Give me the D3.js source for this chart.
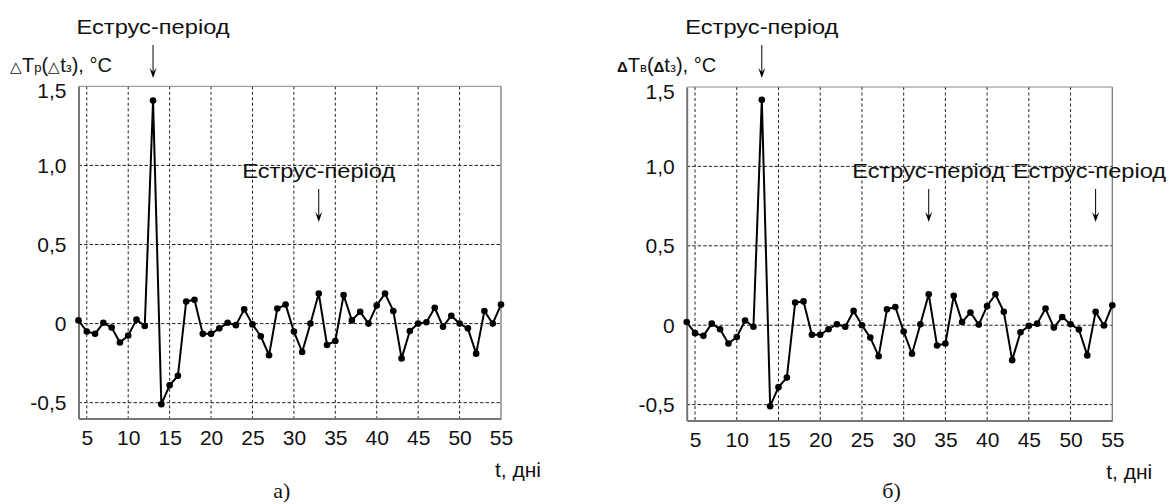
<!DOCTYPE html>
<html><head><meta charset="utf-8">
<script src="https://cdn.jsdelivr.net/npm/d3@7"></script>
<style>
html,body{margin:0;padding:0;background:#fff;}
svg{display:block;font-family:"Liberation Sans",Arial,sans-serif;}
</style></head>
<body><svg id="c" width="1174" height="504"></svg>
<script>
// ---- data ----
const days = [4,5,6,7,8,9,10,11,12,13,14,15,16,17,18,19,20,21,22,23,24,25,26,27,28,29,30,31,32,33,34,35,36,37,38,39,40,41,42,43,44,45,46,47,48,49,50,51,52,53,54,55];
const deltaTr = [0.02,-0.05,-0.065,0.005,-0.025,-0.12,-0.075,0.025,-0.015,1.41,-0.51,-0.39,-0.33,0.14,0.15,-0.065,-0.065,-0.03,0.005,-0.01,0.09,-0.005,-0.08,-0.2,0.095,0.12,-0.05,-0.18,0.0,0.19,-0.135,-0.11,0.18,0.02,0.075,0.0,0.115,0.19,0.08,-0.22,-0.047,0.0,0.008,0.10,-0.02,0.05,0.0,-0.03,-0.19,0.08,0.0,0.12];
const deltaTv = [0.02,-0.05,-0.067,0.01,-0.025,-0.115,-0.074,0.03,-0.01,1.42,-0.51,-0.39,-0.33,0.143,0.15,-0.06,-0.06,-0.025,0.006,-0.01,0.09,0.0,-0.078,-0.195,0.1,0.115,-0.04,-0.18,0.006,0.195,-0.128,-0.115,0.185,0.02,0.08,0.004,0.12,0.195,0.084,-0.22,-0.044,-0.004,0.01,0.105,-0.015,0.052,0.006,-0.027,-0.19,0.084,-0.002,0.126];
const xTicks = [5,10,15,20,25,30,35,40,45,50,55];
const yTicks = [-0.5,0,0.5,1.0,1.5];
const yTickLabels = ["-0,5","0","0,5","1,0","1,5"];
const estrusA = [13,33];
const estrusB = [13,33,53];
const estrusLabel = "Еструс-період";
const xAxisLabel = "t, дні";

// ---- drawing ----
const svg = d3.select("#c");

const panels = [
  {x0:78.5, x1:501, yb:418.5, yt:86.3, values:deltaTr, estrus:estrusA, sub:"р", delta:"△", deltaWeight:"normal", caption:"а)", titleX:10, midOffsets:[0]},
  {x0:686.7, x1:1112.3, yb:420.5, yt:87, values:deltaTv, estrus:estrusB, sub:"в", delta:"Δ", deltaWeight:"bold", caption:"б)", titleX:617, midOffsets:[0,-6]}
];

panels.forEach(p => {
  const x = d3.scaleLinear().domain([4,55]).range([p.x0,p.x1]);
  const y = d3.scaleLinear().domain([-0.6,1.5]).range([p.yb,p.yt]);
  const g = svg.append("g");

  // grid
  g.selectAll(".vg").data(xTicks.filter(t=>t<55)).join("line")
    .attr("x1",d=>x(d)).attr("x2",d=>x(d)).attr("y1",y(1.5)).attr("y2",y(-0.6))
    .attr("stroke","#222").attr("stroke-width",1).attr("stroke-dasharray","3,2.5");
  g.selectAll(".hg").data(yTicks.filter(v=>v<1.5)).join("line")
    .attr("x1",x(4)).attr("x2",x(55)).attr("y1",d=>y(d)).attr("y2",d=>y(d))
    .attr("stroke","#222").attr("stroke-width",1).attr("stroke-dasharray","3.5,2");

  // frame
  g.append("line").attr("x1",x(4)).attr("x2",x(55)).attr("y1",y(1.5)).attr("y2",y(1.5)).attr("stroke","#888").attr("stroke-width",1);
  g.append("line").attr("x1",x(55)).attr("x2",x(55)).attr("y1",y(1.5)).attr("y2",y(-0.6)).attr("stroke","#777").attr("stroke-width",1.3);

  // axes
  const xa = g.append("g").attr("transform",`translate(0,${y(-0.6)})`)
    .call(d3.axisBottom(x).tickValues(xTicks).tickSize(0).tickPadding(12));
  xa.select(".domain").attr("stroke","#777").attr("stroke-width",2);
  xa.selectAll("text").attr("font-size",21).attr("font-family","Liberation Sans, Arial, sans-serif").attr("fill","#111");

  const ya = g.append("g").attr("transform",`translate(${x(4)},0)`)
    .call(d3.axisLeft(y).tickValues(yTicks).tickSize(0).tickPadding(12).tickFormat((d,i)=>yTickLabels[i]));
  ya.select(".domain").attr("stroke","#777").attr("stroke-width",2);
  ya.selectAll("text").attr("font-size",21).attr("font-family","Liberation Sans, Arial, sans-serif").attr("fill","#111")
    .attr("dy",d=>d===1.5?"0.55em":"0.34em");

  // line + markers
  const line = d3.line().x((d,i)=>x(days[i])).y(d=>y(d));
  g.append("path").datum(p.values).attr("d",line).attr("fill","none").attr("stroke","#000").attr("stroke-width",2).attr("stroke-linejoin","round");
  g.selectAll(".pt").data(p.values).join("circle")
    .attr("cx",(d,i)=>x(days[i])).attr("cy",d=>y(d)).attr("r",3.3).attr("fill","#000");

  // y title
  const tt = g.append("text").attr("x",p.titleX).attr("y",72).attr("font-size",20).attr("fill","#111");
  tt.append("tspan").text(p.delta).attr("font-size",15).attr("font-weight",p.deltaWeight);
  tt.append("tspan").text("T");
  tt.append("tspan").text(p.sub).attr("font-size",13);
  tt.append("tspan").text("(");
  tt.append("tspan").text(p.delta).attr("font-size",15).attr("font-weight",p.deltaWeight);
  tt.append("tspan").text("t");
  tt.append("tspan").text("з").attr("font-size",13);
  tt.append("tspan").text("), °C");

  // estrus annotations
  p.estrus.forEach((t,k) => {
    const ax = x(t);
    const top = k===0;
    const ty = top ? 34 : 178;
    const off = top ? 0 : (p.midOffsets[k-1]||0);
    g.append("text").attr("x",ax+off).attr("y",ty).attr("text-anchor","middle").attr("font-size",20)
      .attr("textLength",153).attr("lengthAdjust","spacingAndGlyphs").attr("fill","#111").text(estrusLabel);
    const y1 = ty+11, y2 = ty+44;
    g.append("line").attr("x1",ax).attr("x2",ax).attr("y1",y1).attr("y2",y2-4)
      .attr("stroke","#000").attr("stroke-width",1);
    g.append("path").attr("d",`M${ax-3.5},${y2-10} L${ax},${y2-6} L${ax+3.5},${y2-10} L${ax},${y2} Z`).attr("fill","#000");
  });

  // x label & caption
  g.append("text").attr("x",x(55)+40).attr("y",y(-0.6)+58).attr("text-anchor","end").attr("font-size",21).attr("fill","#111").text(xAxisLabel);
  g.append("text").attr("x",(p.x0+p.x1)/2-8).attr("y",498).attr("text-anchor","middle")
    .attr("font-family","Liberation Serif, Times New Roman, serif").attr("font-size",22).attr("fill","#111").text(p.caption);
});
</script></body></html>
